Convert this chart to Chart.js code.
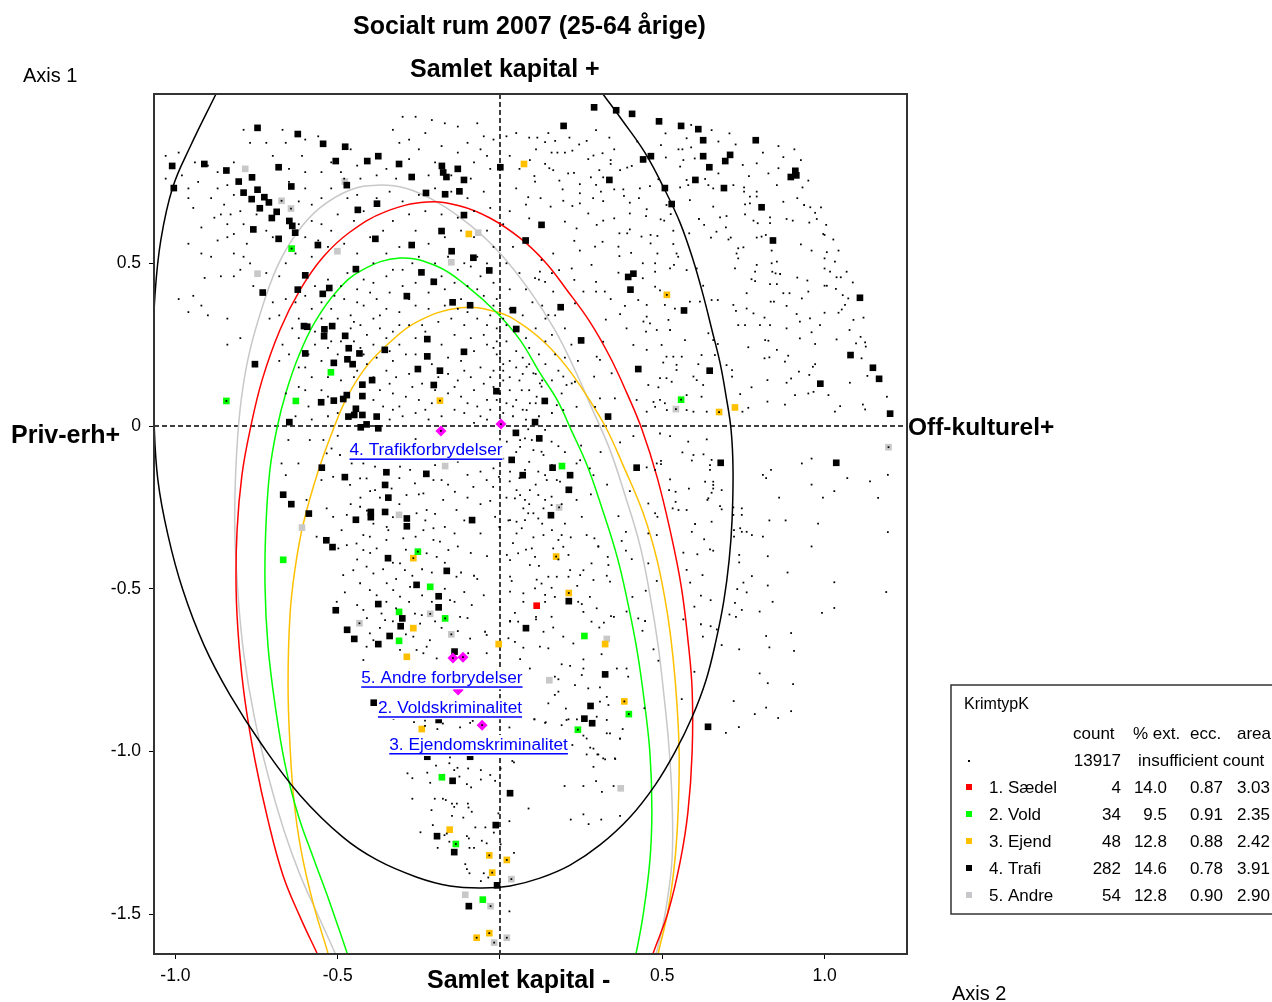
<!DOCTYPE html>
<html>
<head>
<meta charset="utf-8">
<title>Socialt rum 2007</title>
<script src="https://cdn.jsdelivr.net/npm/chart.js@4"></script>
<style>
  html, body { margin: 0; padding: 0; background: #fff; overflow: hidden; }
  canvas { display: block; }
</style>
</head>
<body>
<canvas id="chart" width="1272" height="1002"></canvas>
<script>
const xTicks = [-1.0, -0.5, 0, 0.5, 1.0];
const xTickLabels = ["-1.0", "-0.5", "", "0.5", "1.0"];
const yTicks = [0.5, 0, -0.5, -1.0, -1.5];
const yTickLabels = ["0.5", "0", "-0.5", "-1.0", "-1.5"];

// group means
const meanPoints = [[-0.182,-0.015],[0.003,0.006],[-0.145,-0.713],[-0.114,-0.71],[-0.129,-0.811],[-0.055,-0.919]];

const saedelPoints = [[0.113,-0.552]];

const voldPoints = [[-0.642,0.545],[-0.843,0.077],[-0.629,0.077],[-0.521,0.165],[0.558,0.081],[-0.668,-0.411],[-0.253,-0.386],[-0.215,-0.494],[-0.311,-0.571],[-0.169,-0.591],[-0.311,-0.66],[0.191,-0.123],[0.26,-0.645],[0.397,-0.885],[0.24,-0.933],[-0.179,-1.079],[-0.136,-1.284],[-0.053,-1.455]];

const ejendPoints = [[0.074,0.805],[-0.096,0.59],[-0.185,0.078],[0.514,0.403],[0.675,0.043],[0.724,0.057],[-0.267,-0.406],[-0.267,-0.621],[-0.287,-0.709],[-0.004,-0.67],[0.173,-0.401],[0.212,-0.513],[0.324,-0.67],[0.383,-0.846],[-0.155,-1.24],[-0.033,-1.319],[0.021,-1.333],[-0.024,-1.372],[-0.033,-1.558],[-0.072,-1.572],[-0.241,-0.931]];

const andrePoints = [[-0.785,0.79],[-0.673,0.692],[-0.644,0.668],[-0.478,0.751],[-0.501,0.537],[-0.747,0.468],[-0.15,0.503],[-0.067,0.594],[0.542,0.052],[-0.169,-0.123],[-0.61,-0.312],[-0.311,-0.273],[-0.215,-0.577],[-0.433,-0.606],[-0.15,-0.64],[0.182,-0.25],[1.197,-0.065],[0.329,-0.654],[0.152,-0.781],[0.372,-1.113],[-0.107,-1.44],[-0.029,-1.475],[0.035,-1.392],[0.021,-1.572],[-0.018,-1.587]];

const trafiPoints = [[-0.747,0.916],[-0.623,0.897],[-0.545,0.867],[-0.477,0.858],[-1.01,0.799],[-0.911,0.805],[-0.843,0.785],[-0.506,0.814],[-0.409,0.814],[-0.375,0.829],[-0.311,0.805],[-0.179,0.799],[-0.13,0.79],[0.001,0.795],[-0.682,0.795],[-0.805,0.751],[-0.764,0.764],[-0.272,0.765],[-0.175,0.779],[-0.165,0.765],[-0.111,0.756],[-1.005,0.731],[-0.643,0.736],[-0.472,0.74],[-0.747,0.726],[-0.79,0.717],[-0.726,0.703],[-0.765,0.697],[-0.712,0.687],[-0.228,0.716],[-0.169,0.712],[-0.125,0.721],[-0.379,0.683],[-0.438,0.664],[-0.74,0.669],[-0.688,0.658],[-0.703,0.639],[-0.649,0.63],[-0.64,0.615],[-0.631,0.594],[-0.76,0.604],[-0.682,0.575],[-0.384,0.575],[-0.18,0.599],[-0.111,0.648],[-0.561,0.556],[-0.272,0.556],[-0.149,0.537],[-0.082,0.517],[0.079,0.57],[-0.444,0.482],[-0.6,0.463],[-0.242,0.472],[-0.204,0.443],[-0.033,0.478],[-0.623,0.419],[-0.526,0.424],[-0.546,0.406],[-0.731,0.41],[-0.287,0.399],[-0.146,0.38],[-0.092,0.371],[0.04,0.356],[0.05,0.298],[-0.604,0.307],[-0.594,0.305],[-0.517,0.307],[-0.541,0.297],[-0.542,0.276],[-0.477,0.277],[-0.224,0.267],[-0.466,0.239],[-0.355,0.234],[-0.6,0.223],[-0.433,0.223],[-0.111,0.228],[-0.224,0.214],[-0.47,0.205],[-0.512,0.194],[-0.454,0.19],[-0.755,0.19],[-0.253,0.175],[-0.185,0.17],[-0.394,0.141],[-0.424,0.127],[-0.204,0.126],[-0.011,0.107],[-0.472,0.095],[-0.424,0.092],[-0.483,0.083],[-0.551,0.073],[-0.512,0.078],[-0.444,0.053],[-0.424,0.034],[-0.467,0.029],[-0.449,0.034],[-0.38,0.029],[-0.649,0.012],[-0.411,0.005],[-0.429,-0.004],[-0.375,-0.007],
[0.29,0.979],[0.358,0.97],[0.407,0.959],[0.196,0.922],[0.49,0.936],[0.558,0.922],[0.611,0.912],[0.626,0.878],[0.788,0.878],[0.709,0.833],[0.465,0.829],[0.441,0.819],[0.626,0.829],[0.694,0.814],[0.645,0.795],[0.91,0.784],[0.896,0.765],[0.913,0.77],[0.337,0.756],[0.602,0.756],[0.508,0.731],[0.69,0.731],[0.529,0.682],[0.806,0.672],[0.841,0.57],[0.128,0.618],[0.411,0.468],[0.395,0.458],[0.402,0.419],[0.187,0.365],[0.567,0.355],[1.109,0.394],[0.25,0.263],[1.08,0.218],[1.149,0.179],[1.168,0.145],[0.426,0.175],[0.646,0.17],[0.987,0.13],[0.138,0.077],[0.333,0.029],[0.108,0.012],[1.202,0.038],
[0.049,-0.021],[0.036,-0.104],[0.07,-0.151],[-0.549,-0.128],[-0.478,-0.157],[-0.35,-0.142],[-0.227,-0.147],[-0.354,-0.181],[-0.668,-0.211],[-0.344,-0.22],[-0.643,-0.24],[-0.354,-0.264],[-0.589,-0.269],[-0.398,-0.264],[-0.398,-0.28],[-0.444,-0.288],[-0.287,-0.284],[-0.287,-0.308],[-0.086,-0.289],[-0.535,-0.351],[-0.516,-0.372],[-0.345,-0.406],[-0.164,-0.445],[-0.257,-0.488],[-0.189,-0.523],[-0.375,-0.547],[-0.189,-0.557],[-0.506,-0.566],[-0.301,-0.591],[-0.306,-0.615],[-0.471,-0.626],[-0.34,-0.645],[-0.449,-0.654],[-0.375,-0.67],[-0.14,-0.693],[0.08,-0.621],
[0.121,-0.038],[0.162,-0.128],[0.216,-0.151],[0.212,-0.196],[0.157,-0.274],[0.421,-0.128],[0.68,-0.113],[1.036,-0.113],[0.212,-0.538],[0.324,-0.763],[0.279,-0.86],[0.26,-0.899],[0.284,-0.913],[0.641,-0.924],
[-0.389,-0.85],[-0.189,-0.903],[-0.224,-1.016],[-0.092,-1.016],[-0.146,-1.09],[0.031,-1.128],[-0.013,-1.226],[-0.194,-1.26],[-0.141,-1.309],[-0.009,-1.411],[-0.096,-1.475]];

// individuals without a crime group, read off by eye
const dotPoints = [[0.589,0.925],[0.652,0.909],[0.707,0.899],[0.51,0.899],[0.575,0.884],[0.673,0.874],[0.726,0.865],[0.55,0.85],[0.562,0.85],[0.589,0.856],[0.81,0.84],[0.858,0.86],[0.907,0.85],[0.873,0.826],[0.927,0.817],[0.565,0.817],[0.6,0.822],[0.748,0.802],[0.791,0.807],[0.827,0.776],[0.858,0.792],[0.555,0.797],[0.767,0.768],[0.673,0.776],[0.632,0.759],[0.575,0.756],[0.555,0.733],[0.58,0.74],[0.642,0.74],[0.657,0.73],[0.719,0.74],[0.752,0.733],[0.853,0.74],[0.932,0.733],[0.95,0.754],[0.791,0.72],[0.752,0.72],[0.77,0.705],[0.791,0.705],[0.916,0.7],[0.873,0.689],[0.755,0.681],[0.77,0.684],[0.585,0.694],[0.657,0.674],[0.937,0.679],[0.956,0.672],[0.989,0.672],[0.971,0.655],[0.698,0.645],[0.755,0.65],[0.832,0.641],[0.613,0.636],[0.678,0.641],[0.883,0.636],[0.902,0.631],[0.976,0.636],[0.953,0.625],[0.781,0.631],[0.794,0.623],[0.832,0.623],[0.629,0.618],[0.696,0.61],[1.005,0.618],[0.996,0.59],[0.583,0.592],[0.65,0.579],[0.667,0.597],[0.704,0.573],[0.711,0.579],[0.791,0.579],[0.806,0.582],[0.819,0.587],[1,0.587],[1.027,0.573],[0.927,0.558],[0.75,0.549],[0.734,0.546],[0.837,0.539],[0.96,0.539],[1.043,0.539],[1.007,0.534],[0.729,0.53],[0.734,0.515],[1,0.515],[1.032,0.505],[0.853,0.505],[0.837,0.5],[0.791,0.495],[1,0.484],[0.724,0.484],[0.839,0.474],[0.849,0.469],[0.863,0.467],[1.068,0.474],[1.017,0.474],[0.786,0.474],[1.037,0.457],[1.05,0.457],[0.775,0.451],[0.786,0.445],[0.916,0.456],[0.947,0.447],[1.087,0.441],[0.832,0.436],[0.853,0.436],[1,0.431],[1.007,0.431],[1.035,0.421],[0.76,0.408],[0.873,0.408],[0.892,0.408],[0.95,0.413],[1.056,0.402],[1.073,0.392],[0.93,0.392],[0.671,0.387],[0.652,0.387],[0.834,0.382],[0.844,0.382],[1.063,0.372],[0.883,0.369],[0.719,0.372],[0.727,0.354],[0.76,0.361],[1.053,0.358],[1,0.348],[1.043,0.348],[0.781,0.346],[0.914,0.344],[0.955,0.331],[0.815,0.333],[1.12,0.333],[1.089,0.326],[0.924,0.321],[0.755,0.31],[0.734,0.31],[0.801,0.31],[0.832,0.31],[0.986,0.31],[0.883,0.3],[1.077,0.295],[0.96,0.288],[1.111,0.274],[0.924,0.269],[0.817,0.264],[0.827,0.262],[1.037,0.266],[0.971,0.252],[1.097,0.254],[1.127,0.244],[1.125,0.257],[0.765,0.242],[0.853,0.234],[0.888,0.216],[0.83,0.211],[0.815,0.208],[0.878,0.198],[0.971,0.19],[1.114,0.208],[0.964,0.182],[0.921,0.167],[0.953,0.157],[0.897,0.146],[1.132,0.154],[0.883,0.133],[1.078,0.133],[0.775,0.119],[0.824,0.141],[0.909,0.095],[0.95,0.1],[0.966,0.105],[1.012,0.095],[0.824,0.075],[0.878,0.066],[1.192,0.09],[1.048,0.061],[1.032,0.044],[1.118,0.066],[1.125,0.051],[0.74,0.098],[0.765,0.056],[0.747,0.044],[0.715,0.172],[0.698,0.187],[0.715,0.152],
[0.149,0.9],[0.09,0.886],[0.115,0.886],[0.17,0.876],[0.139,0.872],[0.214,0.886],[0.296,0.909],[0.267,0.876],[0.244,0.865],[0.337,0.886],[0.352,0.85],[0.423,0.874],[0.496,0.863],[0.511,0.825],[0.223,0.846],[0.2,0.84],[0.177,0.84],[0.159,0.84],[0.111,0.85],[0.092,0.817],[0.139,0.805],[0.152,0.792],[0.164,0.786],[0.272,0.82],[0.288,0.831],[0.316,0.838],[0.341,0.817],[0.341,0.805],[0.392,0.794],[0.37,0.786],[0.406,0.799],[0.106,0.768],[0.108,0.751],[0.183,0.754],[0.21,0.776],[0.228,0.778],[0.28,0.764],[0.306,0.786],[0.318,0.764],[0.246,0.743],[0.193,0.727],[0.296,0.741],[0.311,0.72],[0.352,0.727],[0.38,0.727],[0.431,0.73],[0.462,0.737],[0.488,0.758],[0.087,0.703],[0.125,0.7],[0.195,0.692],[0.246,0.715],[0.287,0.7],[0.318,0.691],[0.382,0.707],[0.4,0.686],[0.428,0.7],[0.156,0.674],[0.223,0.676],[0.246,0.684],[0.272,0.653],[0.4,0.653],[0.452,0.666],[0.513,0.679],[0.352,0.638],[0.318,0.631],[0.298,0.618],[0.236,0.607],[0.2,0.628],[0.09,0.638],[0.4,0.604],[0.45,0.645],[0.495,0.635],[0.506,0.631],[0.526,0.651],[0.534,0.6],[0.368,0.592],[0.392,0.592],[0.464,0.587],[0.485,0.584],[0.436,0.582],[0.316,0.566],[0.229,0.569],[0.164,0.53],[0.246,0.539],[0.293,0.551],[0.365,0.551],[0.464,0.561],[0.534,0.559],[0.485,0.53],[0.544,0.53],[0.549,0.52],[0.404,0.532],[0.368,0.522],[0.128,0.51],[0.282,0.495],[0.221,0.484],[0.44,0.5],[0.478,0.5],[0.536,0.495],[0.524,0.484],[0.182,0.479],[0.123,0.474],[0.108,0.454],[0.139,0.443],[0.229,0.449],[0.296,0.443],[0.365,0.471],[0.44,0.454],[0.478,0.474],[0.575,0.479],[0.606,0.484],[0.626,0.431],[0.257,0.413],[0.296,0.413],[0.323,0.413],[0.164,0.413],[0.341,0.39],[0.478,0.428],[0.493,0.417],[0.585,0.382],[0.616,0.382],[0.452,0.372],[0.426,0.387],[0.385,0.369],[0.231,0.377],[0.149,0.341],[0.508,0.372],[0.452,0.336],[0.442,0.321],[0.37,0.344],[0.326,0.327],[0.539,0.361],[0.519,0.326],[0.39,0.3],[0.483,0.295],[0.462,0.315],[0.45,0.29],[0.524,0.295],[0.57,0.264],[0.498,0.249],[0.411,0.249],[0.452,0.234],[0.657,0.264],[0.642,0.285],[0.671,0.252],[0.662,0.218],[0.318,0.259],[0.298,0.213],[0.308,0.203],[0.513,0.213],[0.534,0.213],[0.56,0.213],[0.503,0.195],[0.544,0.188],[0.611,0.19],[0.621,0.218],[0.344,0.162],[0.29,0.152],[0.513,0.147],[0.544,0.172],[0.596,0.152],[0.529,0.136],[0.457,0.126],[0.493,0.147],[0.488,0.119],[0.626,0.126],[0.606,0.141],[0.205,0.126],[0.195,0.152],[0.231,0.136],[0.123,0.131],[0.308,0.085],[0.354,0.085],[0.421,0.08],[0.473,0.074],[0.493,0.08],[0.508,0.07],[0.575,0.095],[0.621,0.09],[0.452,0.044],[0.478,0.059],[0.575,0.049],[0.637,0.044],[0.596,0.044],[0.293,0.059],[0.514,0.049],[0.082,0.182],[0.103,0.162],[0.067,0.11],[0.092,0.07],[0.128,0.121],[0.113,0.09],[0.082,0.049],[0.175,0.064],[0.221,0.131],[0.195,0.049],[0.236,0.059],
[-0.99,0.84],[-1.03,0.83],[-1.03,0.76],[-0.96,0.7],[-0.945,0.67],[-0.92,0.61],[-0.96,0.56],[-0.92,0.53],[-0.89,0.52],[-0.91,0.455],[-0.99,0.39],[-0.945,0.4],[-0.96,0.35],[-0.92,0.37],[-0.9,0.34],[-0.84,0.33],[-0.8,0.27],[-0.84,0.25],[-0.79,0.91],[-0.77,0.87],[-0.72,0.87],[-0.67,0.91],[-0.66,0.87],[-0.6,0.88],[-0.56,0.89],[-0.61,0.83],[-0.52,0.81],[-0.46,0.85],[-0.49,0.78],[-0.44,0.8],[-0.38,0.83],[-0.3,0.95],[-0.26,0.95],[-0.21,0.94],[-0.17,0.93],[-0.33,0.91],[-0.28,0.88],[-0.31,0.87],[-0.23,0.9],[-0.13,0.92],[-0.07,0.93],[-0.05,0.89],[-0.02,0.88],[0.02,0.89],[0.05,0.9],[-0.1,0.87],[-0.06,0.85],[-0.13,0.84],[-0.18,0.86],[-0.25,0.85],[-0.28,0.82],[-0.35,0.79],[-0.2,0.81],[-0.08,0.81],[-0.04,0.83],[-0.03,0.79],[0.03,0.83],[0.06,0.79],[-0.09,0.76],[-0.15,0.77],[-0.22,0.77],[-0.32,0.76],[-0.38,0.77],[-0.43,0.76],[-0.48,0.76],[-0.55,0.78],[-0.6,0.78],[-0.65,0.79],[-0.7,0.83],[-0.82,0.81],[-0.87,0.78],[-0.9,0.8],[-0.94,0.81],[-0.98,0.77],[-0.93,0.75],[-0.87,0.73],[-0.96,0.73],[-0.89,0.7],[-0.85,0.68],[-0.82,0.71],[-0.84,0.62],[-0.84,0.74],[-0.8,0.66],[-0.86,0.65],[-0.83,0.65],[-0.88,0.64],[-0.79,0.62],[-0.82,0.59],[-0.84,0.58],[-0.78,0.56],[-0.82,0.53],[-0.79,0.52],[-0.87,0.57],[-0.75,0.65],[-0.72,0.6],[-0.7,0.58],[-0.62,0.69],[-0.6,0.73],[-0.65,0.75],[-0.58,0.68],[-0.55,0.7],[-0.52,0.73],[-0.47,0.7],[-0.44,0.71],[-0.62,0.62],[-0.58,0.63],[-0.55,0.62],[-0.6,0.58],[-0.56,0.57],[-0.52,0.6],[-0.5,0.65],[-0.45,0.63],[-0.42,0.66],[-0.38,0.7],[-0.34,0.72],[-0.3,0.69],[-0.25,0.71],[-0.2,0.73],[-0.15,0.72],[-0.1,0.7],[-0.05,0.72],[0,0.74],[0.05,0.73],[-0.86,0.46],[-0.82,0.46],[-0.8,0.48],[-0.77,0.5],[-0.76,0.43],[-0.72,0.47],[-0.68,0.46],[-0.66,0.5],[-0.63,0.53],[-0.58,0.52],[-0.53,0.55],[-0.48,0.56],[-0.44,0.53],[-0.4,0.58],[-0.36,0.6],[-0.33,0.63],[-0.28,0.65],[-0.23,0.66],[-0.18,0.65],[-0.13,0.64],[-0.08,0.66],[-0.03,0.67],[0.03,0.66],[0.08,0.68],
[-0.7,0.38],[-0.68,0.34],[-0.66,0.39],[-0.63,0.38],[-0.6,0.4],[-0.58,0.36],[-0.62,0.33],[-0.64,0.3],[-0.71,0.33],[-0.55,0.38],[-0.52,0.36],[-0.57,0.43],[-0.53,0.45],[-0.49,0.43],[-0.47,0.47],[-0.42,0.45],[-0.39,0.5],[-0.35,0.53],[-0.31,0.55],[-0.26,0.6],[-0.22,0.56],[-0.17,0.58],[-0.12,0.6],[-0.08,0.58],[-0.04,0.6],[0.01,0.62],[0.04,0.55],[-0.02,0.55],[-0.07,0.52],[-0.11,0.5],[-0.16,0.52],[-0.2,0.5],[-0.25,0.52],[-0.3,0.48],[-0.35,0.46],[-0.39,0.44],[-0.44,0.42],[-0.48,0.39],[-0.5,0.33],[-0.46,0.34],[-0.42,0.37],[-0.38,0.39],[-0.34,0.41],[-0.3,0.43],[-0.26,0.44],[-0.22,0.41],[-0.18,0.46],[-0.14,0.44],[-0.1,0.43],[-0.06,0.46],[-0.02,0.44],[0.02,0.5],[0.06,0.47],[0.08,0.42],[0.03,0.42],[-0.01,0.39],[-0.05,0.4],[-0.12,0.39],[-0.17,0.37],[-0.22,0.36],[-0.26,0.37],[-0.31,0.35],[-0.35,0.36],[-0.39,0.33],[-0.43,0.31],[-0.46,0.3],[-0.57,0.29],[-0.62,0.27],[-0.67,0.25],[-0.68,0.2],[-0.65,0.22],[-0.6,0.18],[-0.57,0.25],[-0.53,0.24],[-0.49,0.26],[-0.45,0.26],[-0.41,0.28],[-0.37,0.3],[-0.33,0.29],[-0.28,0.31],[-0.24,0.31],[-0.19,0.32],[-0.15,0.33],[-0.11,0.31],[-0.07,0.33],[-0.03,0.34],[0.01,0.33],[-0.01,0.3],[-0.05,0.28],[-0.09,0.27],[-0.14,0.28],[-0.18,0.25],[-0.26,0.27],[-0.31,0.25],[-0.35,0.27],[-0.39,0.25],[-0.43,0.24],[-0.5,0.22],[-0.55,0.2],[-0.58,0.15],[-0.62,0.12],[-0.66,0.1],[-0.63,0.03],[-0.59,0.06],[-0.55,0.11],[-0.53,0.15],[-0.49,0.14],[-0.45,0.15],[-0.41,0.19],[-0.38,0.21],[-0.33,0.2],[-0.29,0.22],[-0.26,0.22],[-0.21,0.19],[-0.16,0.21],[-0.12,0.2],[-0.08,0.23],[-0.04,0.25],[-0.01,0.22],[0.02,0.26],[0.05,0.23],[0.08,0.27],[0.11,0.3],[0.14,0.26],[0.17,0.22],[0.12,0.22],[0.09,0.19],[0.05,0.18],[0.01,0.19],[-0.02,0.17],[-0.06,0.18],[-0.09,0.15],[-0.13,0.14],[-0.16,0.16],[-0.24,0.13],[-0.28,0.16],[-0.32,0.15],[-0.35,0.17],[-0.37,0.11],[-0.33,0.1],[-0.29,0.09],[-0.25,0.08],[-0.21,0.07],[-0.16,0.1],[-0.12,0.09],[-0.08,0.11],[-0.05,0.13],[-0.02,0.12],[0.01,0.14],[0.03,0.11],[0.06,0.14],[0.05,0.08],[0.02,0.07],[-0.01,0.08],[-0.03,0.05],[-0.07,0.06],[-0.11,0.04],[-0.14,0.05],[-0.18,0.03],[-0.22,0.02],[-0.26,0.04],[-0.3,0.03],[-0.33,0.05],[-0.36,0.06],[-0.39,0.08],[-0.58,0.02],[-0.53,0.03],[-0.5,0.04],[-0.47,0],[-0.34,0.02],[-0.08,0.01],[-0.04,0.02],[0.01,0.04],[0.04,0.03],[0.07,0.05],[0.09,0.11],[0.11,0.16],[0.14,0.19],[0.16,0.14],[0.19,0.1],[0.14,0.08],[0.16,0.04],[0.12,0.03],[0.08,0.02],[0,0.1],[0.01,0.17],[0,0.21],[-0.01,0.26],[0,0.29],[0.1,0.38],[0.13,0.37],[0.17,0.34],[0.14,0.33],[0.2,0.3],[0.22,0.25],[0.24,0.2],[0.12,0.45],[0.16,0.47],
[0.58,-0.048],[0.637,-0.041],[0.493,-0.023],[0.524,-0.031],[0.411,-0.031],[0.562,-0.081],[0.596,-0.089],[0.627,-0.087],[0.591,-0.106],[0.652,-0.104],[0.647,-0.12],[0.647,-0.135],[0.452,-0.127],[0.483,-0.115],[0.496,-0.107],[0.496,-0.117],[0.478,-0.135],[0.524,-0.164],[0.632,-0.171],[0.657,-0.171],[0.657,-0.181],[0.657,-0.192],[0.582,-0.192],[0.521,-0.197],[0.541,-0.202],[0.652,-0.205],[0.683,-0.197],[0.642,-0.222],[0.639,-0.227],[0.457,-0.238],[0.541,-0.233],[0.678,-0.246],[0.683,-0.256],[0.719,-0.25],[0.745,-0.253],[0.532,-0.253],[0.55,-0.258],[0.575,-0.258],[0.478,-0.268],[0.485,-0.279],[0.719,-0.273],[0.745,-0.273],[0.365,-0.277],[0.652,-0.294],[0.601,-0.301],[0.591,-0.325],[0.74,-0.314],[0.745,-0.325],[0.76,-0.325],[0.721,-0.32],[0.776,-0.335],[0.721,-0.34],[0.388,-0.325],[0.457,-0.33],[0.483,-0.335],[0.267,-0.335],[0.291,-0.345],[0.375,-0.353],[0.629,-0.348],[0.647,-0.379],[0.657,-0.383],[0.388,-0.383],[0.303,-0.369],[0.565,-0.389],[0.608,-0.394],[0.737,-0.396],[0.737,-0.419],[0.332,-0.402],[0.406,-0.409],[0.334,-0.427],[0.282,-0.422],[0.457,-0.422],[0.575,-0.442],[0.624,-0.458],[0.776,-0.461],[0.483,-0.476],[0.586,-0.481],[0.75,-0.481],[0.329,-0.46],[0.288,-0.473],[0.339,-0.478],[0.731,-0.501],[0.76,-0.511],[0.449,-0.506],[0.408,-0.525],[0.619,-0.521],[0.649,-0.535],[0.298,-0.56],[0.39,-0.57],[0.599,-0.555],[0.724,-0.543],[0.745,-0.565],[0.707,-0.579],[0.727,-0.586],[0.565,-0.594],[0.619,-0.609],[0.649,-0.615],[0.447,-0.599],[0.426,-0.591],[0.282,-0.601],[0.342,-0.584],[0.351,-0.586],[0.32,-0.604],[0.306,-0.619],[0.439,-0.629],[0.625,-0.647],[0.668,-0.625],[0.473,-0.686],[0.683,-0.673],[0.737,-0.686],[0.488,-0.721],[0.56,-0.839],[0.599,-0.755],[0.445,-0.867],[0.37,-0.96],
[1.195,-0.15],[1.165,-0.221],[1.195,-0.326],[1.19,-0.51],[1.03,-0.559],[0.992,-0.574],[0.897,-0.636],[0.906,-0.691],[0.903,-0.793],[0.897,-0.876],[0.857,-0.897],[0.736,-0.925],[0.696,-0.943],[0.835,-0.135],[0.93,-0.115],[0.96,-0.1],[0.82,-0.16],[0.81,-0.15],[1.07,-0.16],[1.14,-0.17],[0.83,-0.29],[0.96,-0.18],[0.86,-0.22],[0.88,-0.29],[0.995,-0.22],[1.03,-0.2],[0.98,-0.3],[0.81,-0.34],[0.825,-0.4],[0.886,-0.45],[0.96,-0.37],[1.03,-0.48],[0.825,-0.49],[0.84,-0.54],[0.8,-0.57],[0.82,-0.645],[0.83,-0.68],[0.8,-0.76],[0.825,-0.79],[0.72,-0.845],[0.785,-0.885],[0.82,-0.865],
[0.021,-0.048],[0.062,-0.043],[0.087,-0.01],[0.077,-0.038],[0.098,-0.043],[0.062,-0.064],[0.139,-0.012],[0.159,-0.048],[0.18,-0.062],[0.103,-0.074],[0.128,-0.079],[0.134,-0.089],[0.077,-0.135],[0.031,-0.14],[0.118,-0.14],[0.139,-0.151],[0.175,-0.166],[0.185,-0.171],[0.247,-0.105],[0.236,-0.115],[0.277,-0.13],[0.288,-0.151],[0.051,-0.197],[0.092,-0.197],[0.144,-0.166],[0.062,-0.212],[0.077,-0.227],[0.046,-0.222],[0.118,-0.212],[0.159,-0.217],[0.139,-0.227],[0.159,-0.243],[0.236,-0.227],[0.072,-0.253],[0.087,-0.268],[0.103,-0.268],[0.134,-0.253],[0.252,-0.279],[0.031,-0.289],[0.051,-0.294],[0.077,-0.289],[0.118,-0.284],[0,-0.31],[0.067,-0.314],[0.134,-0.335],[0.19,-0.335],[0.18,-0.35],[0.218,-0.342],[0.051,-0.33],[0.103,-0.342],[0.021,-0.396],[0.056,-0.391],[0.031,-0.412],[0.108,-0.402],[0.098,-0.376],[0.164,-0.376],[0.195,-0.371],[0.211,-0.396],[0.303,-0.371],[0.216,-0.443],[0.211,-0.463],[0.257,-0.443],[0.247,-0.458],[0.092,-0.427],[0.149,-0.463],[0.175,-0.463],[0.031,-0.463],[0.036,-0.476],[0.113,-0.472],[0.238,-0.491],[0.159,-0.497],[0.128,-0.484],[0.072,-0.514],[0.108,-0.499],[0.139,-0.519],[0.169,-0.525],[0.031,-0.509],[0.277,-0.525],[0.252,-0.547],[0.241,-0.54],[0.139,-0.54],[0.072,-0.54],[0,-0.54],[0.046,-0.574],[0.111,-0.586],[0.111,-0.594],[0.159,-0.586],[0.056,-0.601],[0.031,-0.599],[0.257,-0.571],[0.134,-0.632],[0.164,-0.619],[0.026,-0.652],[0.046,-0.663],[0.195,-0.647],[0.226,-0.668],[0.072,-0.681],[0.123,-0.678],[0.149,-0.683],[0.257,-0.717],[0.313,-0.701],[0.062,-0.716],[0.19,-0.732],[0.216,-0.737],[0.092,-0.745],[0.169,-0.77],[0.18,-0.778],[0.257,-0.745],[0.252,-0.765],[0.36,-0.745],[0.39,-0.745],[0.395,-0.77],[0.231,-0.796],[0.272,-0.806],[0.308,-0.803],[0.18,-0.816],[0.169,-0.826],[0.149,-0.852],[0.329,-0.832],[0.308,-0.847],[0.203,-0.868],[0.334,-0.857],[0.298,-0.893],[0.329,-0.903],[0.205,-0.903],[0.106,-0.901],[0.139,-0.912],[0.19,-0.919],[0.329,-0.944],[0.339,-0.944],[0.267,-0.96],[0.288,-0.991],[0.303,-1.009],[0.267,-1.009],[0.354,-1.021],[0.318,-1.021],
[-0.652,-0.043],[-0.673,-0.115],[-0.66,-0.151],[-0.621,-0.115],[-0.586,-0.043],[-0.596,-0.227],[-0.565,-0.34],[-0.534,-0.253],[-0.498,-0.376],[-0.472,-0.366],[-0.503,-0.54],[-0.478,-0.511],[-0.483,-0.458],[-0.55,-0.166],[-0.514,-0.156],[-0.544,-0.043],[-0.519,-0.069],[-0.493,-0.089],[-0.534,-0.084],[-0.457,-0.115],[-0.421,-0.115],[-0.462,-0.181],[-0.431,-0.161],[-0.385,-0.197],[-0.385,-0.125],[-0.411,-0.161],[-0.334,-0.192],[-0.308,-0.125],[-0.277,-0.135],[-0.262,-0.176],[-0.288,-0.212],[-0.236,-0.207],[-0.205,-0.166],[-0.18,-0.166],[-0.139,-0.202],[-0.082,-0.187],[-0.041,-0.166],[-0.021,-0.187],[-0.003,-0.156],[-0.015,-0.279],[-0.002,-0.31],[0.026,-0.29],[-0.134,-0.258],[-0.175,-0.227],[-0.226,-0.258],[-0.257,-0.268],[-0.472,-0.273],[-0.431,-0.248],[-0.514,-0.279],[-0.488,-0.32],[-0.421,-0.335],[-0.442,-0.361],[-0.401,-0.34],[-0.421,-0.381],[-0.38,-0.376],[-0.344,-0.32],[-0.349,-0.31],[-0.298,-0.345],[-0.236,-0.32],[-0.205,-0.314],[-0.205,-0.35],[-0.185,-0.355],[-0.226,-0.391],[-0.195,-0.402],[-0.159,-0.381],[-0.308,-0.422],[-0.293,-0.443],[-0.411,-0.432],[-0.452,-0.443],[-0.39,-0.453],[-0.349,-0.483],[-0.329,-0.504],[-0.308,-0.524],[-0.277,-0.494],[-0.431,-0.483],[-0.401,-0.504],[-0.421,-0.565],[-0.365,-0.576],[-0.354,-0.596],[-0.401,-0.637],[-0.39,-0.658],[-0.411,-0.678],[-0.262,-0.576],[-0.241,-0.581],[-0.246,-0.607],[-0.267,-0.647],[-0.216,-0.658],[-0.226,-0.678],[-0.257,-0.688],[-0.236,-0.698],[-0.195,-0.714],[-0.134,-0.463],[-0.154,-0.535],[-0.123,-0.586],[-0.087,-0.55],[-0.046,-0.632],[-0.041,-0.642],[-0.092,-0.653],[-0.098,-0.698],[-0.041,-0.698],[0.031,-0.601],[-0.421,-0.719],[-0.308,-0.688],
[-0.328,-0.9],[-0.265,-0.91],[-0.231,-0.905],[-0.231,-0.921],[-0.193,-0.931],[-0.176,-0.914],[-0.123,-0.926],[-0.092,-0.912],[-0.084,-0.906],[0.029,-0.926],[0.106,-0.901],[0.141,-0.91],[0.211,-0.901],[0.237,-0.901],[0.257,-0.951],[0.37,-0.96],[0.378,-0.931],[0.223,-0.98],[0.278,-0.988],[0.3,-1.009],[0.324,-1.024],[0.355,-1.023],[0.288,-1.047],[-0.154,-1.018],[-0.156,-1.036],[-0.197,-1.043],[-0.131,-1.05],[-0.141,-1.057],[-0.098,-1.052],[-0.059,-1.057],[0.002,-1.052],[0.038,-1.029],[0.043,-1.033],[-0.285,-1.067],[-0.27,-1.082],[-0.224,-1.065],[-0.215,-1.096],[-0.125,-1.077],[-0.102,-1.1],[-0.089,-1.11],[-0.059,-1.086],[-0.03,-1.072],[-0.015,-1.09],[0.199,-1.106],[0.257,-1.106],[0.314,-1.124],[0.296,-1.091],[0.35,-1.106],[-0.27,-1.145],[-0.201,-1.145],[-0.176,-1.145],[-0.167,-1.149],[-0.148,-1.16],[-0.141,-1.17],[-0.133,-1.16],[-0.099,-1.16],[-0.097,-1.172],[0.088,-1.175],[-0.211,-1.18],[-0.087,-1.185],[-0.148,-1.198],[-0.113,-1.203],[-0.005,-1.19],[0.029,-1.214],[0.218,-1.209],[0.257,-1.193],[0.273,-1.223],[0.312,-1.209],[0.37,-1.198],[-0.207,-1.226],[-0.076,-1.233],[-0.045,-1.233],[-0.019,-1.249],[-0.245,-1.248],[-0.171,-1.257],[-0.164,-1.252],[-0.102,-1.26],[-0.096,-1.267],[-0.056,-1.274],[-0.041,-1.282],[-0.156,-1.277],[-0.192,-1.296],[-0.094,-1.296],[-0.08,-1.296],[0.002,-1.285],[0.043,-1.311],[-0.107,-1.346],[-0.102,-1.361],[-0.094,-1.374],[-0.05,-1.374],[-0.036,-1.387],[-0.059,-1.398],[0.029,-1.491],
[-0.033,-1.319],[0.021,-1.333],[-0.024,-1.372],[0.035,-1.392],[-0.029,-1.475],[0.021,-1.572],[-0.018,-1.587],[-0.033,-1.558],[-0.072,-1.572],[-0.136,-1.284],[0.24,-0.933],[0.397,-0.885],[0.383,-0.846],[-0.843,0.077],[0.558,0.081],[0.675,0.043],[-0.185,0.078],[0.514,0.403],[-0.642,0.545],[-0.673,0.692],[-0.644,0.668],[0.542,0.052],[1.197,-0.065],[-0.433,-0.606],[-0.215,-0.577],[-0.169,-0.591],[-0.253,-0.386],[-0.267,-0.406],[-0.15,-0.64],[0.182,-0.25],[0.173,-0.401],[0.212,-0.513],[-0.182,-0.015],[0.003,0.006],[-0.145,-0.713],[-0.114,-0.71],[-0.055,-0.919],
[-0.53,0.09],[-0.44,0.17],[-0.37,0.34],[-0.28,0.39],[-0.23,0.29],[-0.17,0.42],[-0.13,0.48],[-0.09,0.49],[-0.04,0.5],[-0.02,0.37],[0.03,0.36],[0.07,0.34],[0.09,0.24],[0.07,0.16],[0.04,0.06],[0.11,0.07],[0.13,0.14],[0.18,0.17],[0.2,0.21],[0.16,0.28],[-0.03,0.15],[-0.04,0.08],[-0.06,0.03],[-0.1,0.07],[-0.14,0.12],[-0.2,0.11],[-0.23,0.05],[-0.27,0.12],[-0.31,0.06],[-0.34,0.13],[-0.39,0.15],[-0.42,0.22],[-0.45,0.32],[-0.4,0.41],[-0.33,0.48],[-0.27,0.5],[-0.21,0.45],[-0.13,0.36],[-0.1,0.35],[-0.07,0.42],[-0.04,0.31],[0,0.36],[0.02,0.31],[-0.02,0.24],[0.03,0.2],[0.07,0.21],[0.03,0.15],[-0.11,0.17],[-0.19,0.15],[-0.25,0.18],[-0.31,0.31],[-0.34,0.23],[-0.44,0.38],[-0.51,0.4],[-0.55,0.33],[-0.59,0.31],[-0.54,0.29],[-0.47,0.2],[-0.52,0.26],[-0.59,0.22],[-0.62,0.18],[-0.6,0.11],
[-0.5,-0.03],[-0.46,-0.06],[-0.41,-0.08],[-0.37,-0.05],[-0.33,-0.09],[-0.29,-0.07],[-0.26,-0.04],[-0.22,-0.09],[-0.15,-0.09],[-0.12,-0.05],[-0.09,-0.09],[-0.05,-0.1],[-0.02,-0.06],[0.01,-0.1],[0.03,-0.17],[0.05,-0.08],[0.09,-0.11],[0.11,-0.18],[0.06,-0.16],[0.02,-0.22],[0.09,-0.24],[-0.02,-0.13],[-0.06,-0.14],[-0.1,-0.15],[-0.13,-0.11],[-0.16,-0.18],[-0.2,-0.12],[-0.25,-0.21],[-0.27,-0.1],[-0.31,-0.16],[-0.31,-0.24],[-0.37,-0.22],[-0.4,-0.2],[-0.43,-0.22],[-0.46,-0.24],[-0.39,-0.3],[-0.41,-0.26],[-0.35,-0.35],[-0.33,-0.28],[-0.29,-0.38],[-0.26,-0.34],[-0.23,-0.29],[-0.2,-0.27],[-0.17,-0.31],[-0.14,-0.33],[-0.11,-0.29],[-0.1,-0.22],[-0.06,-0.24],[-0.03,-0.23],[-0.06,-0.33],[-0.04,-0.4],[-0.09,-0.39],[-0.12,-0.45],[-0.17,-0.42],[-0.21,-0.45],[-0.24,-0.44],[-0.27,-0.46],[-0.32,-0.47],[-0.36,-0.44],[-0.38,-0.52],[-0.35,-0.54],[-0.32,-0.56],[-0.28,-0.54],[-0.24,-0.52],[-0.21,-0.54],[-0.17,-0.5],[-0.14,-0.54],[-0.11,-0.51],[-0.08,-0.46],[-0.05,-0.52],[-0.1,-0.59],[-0.13,-0.63],[-0.18,-0.62],[-0.2,-0.6],[-0.29,-0.64],[-0.33,-0.6],[-0.37,-0.62],[-0.41,-0.59],[-0.44,-0.55],[-0.44,-0.41],[-0.4,-0.39],[-0.33,-0.42],[-0.13,-0.37],[-0.07,-0.47],[0.04,-0.36],[0.08,-0.38],[0.13,-0.3],[0.16,-0.32],[0.12,-0.43],[0.18,-0.41],[0.2,-0.3],[0.16,-0.12],[0.2,-0.08],[0.25,-0.06],[0.22,-0.19],[0.19,-0.24],[0.28,-0.21],[0.31,-0.08],[0.33,-0.18],[0.37,-0.05],[0.4,-0.2]];

// outlines of the 14 percent ellipses
const trafiEllipse = [[-0.875,1.02],[-0.955,0.857],[-1.008,0.734],[-1.045,0.571],[-1.063,0.402],[-1.069,0.233],[-1.066,0.018],[-1.054,-0.166],[-1.023,-0.335],[-0.977,-0.504],[-0.912,-0.673],[-0.832,-0.826],[-0.733,-0.98],[-0.616,-1.134],[-0.484,-1.263],[-0.379,-1.333],[-0.256,-1.386],[-0.154,-1.413],[-0.055,-1.419],[0.031,-1.413],[0.123,-1.389],[0.216,-1.349],[0.308,-1.287],[0.401,-1.201],[0.478,-1.103],[0.539,-1.002],[0.592,-0.894],[0.635,-0.78],[0.666,-0.657],[0.69,-0.535],[0.706,-0.412],[0.715,-0.289],[0.718,-0.135],[0.712,-0.012],[0.696,0.095],[0.678,0.194],[0.653,0.295],[0.626,0.402],[0.595,0.51],[0.555,0.624],[0.508,0.725],[0.447,0.839],[0.376,0.94],[0.317,1.02]];
const andreEllipse = [[-0.508,-1.619],[-0.561,-1.502],[-0.616,-1.379],[-0.666,-1.241],[-0.715,-1.072],[-0.758,-0.888],[-0.789,-0.703],[-0.807,-0.519],[-0.817,-0.319],[-0.814,-0.135],[-0.801,0.049],[-0.777,0.203],[-0.74,0.341],[-0.687,0.488],[-0.626,0.593],[-0.555,0.67],[-0.462,0.725],[-0.379,0.74],[-0.293,0.731],[-0.194,0.688],[-0.092,0.617],[0,0.531],[0.092,0.415],[0.169,0.295],[0.231,0.172],[0.283,0.055],[0.339,-0.074],[0.385,-0.212],[0.431,-0.366],[0.462,-0.519],[0.487,-0.673],[0.505,-0.826],[0.52,-0.979],[0.53,-1.149],[0.53,-1.333],[0.508,-1.502],[0.481,-1.622],[0.47,-1.66]];
const saedelEllipse = [[-0.564,-1.619],[-0.616,-1.508],[-0.669,-1.379],[-0.715,-1.21],[-0.755,-1.026],[-0.786,-0.841],[-0.804,-0.673],[-0.813,-0.504],[-0.81,-0.319],[-0.795,-0.15],[-0.77,-0.012],[-0.733,0.141],[-0.678,0.295],[-0.616,0.418],[-0.545,0.519],[-0.462,0.596],[-0.354,0.658],[-0.225,0.688],[-0.123,0.676],[-0.031,0.639],[0.062,0.577],[0.139,0.504],[0.206,0.418],[0.277,0.32],[0.339,0.212],[0.391,0.101],[0.438,-0.012],[0.484,-0.157],[0.524,-0.32],[0.558,-0.49],[0.579,-0.657],[0.592,-0.81],[0.592,-1.002],[0.579,-1.186],[0.555,-1.339],[0.518,-1.493],[0.471,-1.622],[0.46,-1.66]];
const voldEllipse = [[-0.471,-1.619],[-0.524,-1.465],[-0.576,-1.324],[-0.622,-1.195],[-0.662,-1.041],[-0.693,-0.857],[-0.715,-0.673],[-0.724,-0.489],[-0.721,-0.304],[-0.709,-0.135],[-0.687,-0.006],[-0.659,0.104],[-0.619,0.218],[-0.57,0.32],[-0.502,0.415],[-0.425,0.479],[-0.308,0.516],[-0.194,0.491],[-0.102,0.43],[-0.009,0.347],[0.062,0.264],[0.123,0.163],[0.176,0.08],[0.222,-0.018],[0.268,-0.12],[0.314,-0.252],[0.361,-0.402],[0.394,-0.544],[0.422,-0.688],[0.444,-0.841],[0.462,-1.005],[0.468,-1.18],[0.462,-1.333],[0.441,-1.502],[0.419,-1.622],[0.41,-1.66]];
const ejendEllipse = [[-0.53,-1.619],[-0.576,-1.465],[-0.613,-1.303],[-0.635,-1.149],[-0.647,-0.98],[-0.653,-0.796],[-0.647,-0.581],[-0.632,-0.442],[-0.607,-0.304],[-0.561,-0.141],[-0.512,-0.006],[-0.471,0.089],[-0.413,0.181],[-0.345,0.252],[-0.256,0.32],[-0.123,0.363],[-0.009,0.35],[0.062,0.316],[0.139,0.255],[0.206,0.181],[0.268,0.092],[0.327,-0.006],[0.379,-0.12],[0.441,-0.267],[0.484,-0.412],[0.515,-0.571],[0.533,-0.71],[0.545,-0.851],[0.552,-1.005],[0.549,-1.18],[0.539,-1.333],[0.518,-1.487],[0.487,-1.622],[0.48,-1.66]];

const zeroLineH = [[-1.066,0],[1.254,0]];
const zeroLineV = [[0,1.02],[0,-1.622]];

// labels of the group means, white box behind the text
const meanLabels = ["4. Trafikforbrydelser", "5. Andre forbrydelser", "2. Voldskriminalitet", "3. Ejendomskriminalitet"];
const meanLabelX = [-0.228, -0.179, -0.154, -0.066];
const meanLabelY = [-0.075, -0.775, -0.867, -0.98];

const legendNames = ["1. Sædel", "2. Vold", "3. Ejend", "4. Trafi", "5. Andre"];
const legendColors = ["#ff0000", "#00ff00", "#ffc000", "#000000", "#c8c8cc"];
const legendCount = ["4", "34", "48", "282", "54"];
const legendExt = ["14.0", "9.5", "12.8", "14.6", "12.8"];
const legendEcc = ["0.87", "0.91", "0.88", "0.78", "0.90"];
const legendArea = ["3.03", "2.35", "2.42", "3.91", "2.90"];

const BOLD = 'bold 25px "Liberation Sans"';
const PLAIN = '17px "Liberation Sans"';

function toXY(list) {
  return list.map((p) => ({ x: p[0], y: p[1] }));
}

function squares(list, color, radius, style) {
  return {
    type: "scatter",
    data: toXY(list),
    pointStyle: style || "rect",
    pointRadius: radius,
    pointHoverRadius: radius,
    pointBackgroundColor: color,
    pointBorderWidth: 0,
    showLine: false,
  };
}

function outline(list, color, width, dash) {
  return {
    type: "scatter",
    data: toXY(list),
    showLine: true,
    fill: false,
    tension: dash ? 0 : 0.4,
    borderColor: color,
    borderWidth: width,
    borderDash: dash || [],
    pointRadius: 0,
  };
}

function put(ctx, text, x, y, font, align) {
  ctx.font = font;
  ctx.textAlign = align || "left";
  ctx.textBaseline = "middle";
  ctx.fillStyle = "#000";
  ctx.fillText(text, x, y);
}

const textPlugin = {
  id: "textPlugin",
  afterDatasetsDraw(chart) {
    const { ctx, chartArea, scales } = chart;
    ctx.save();

    // frame
    ctx.strokeStyle = "#333";
    ctx.lineWidth = 2;
    ctx.strokeRect(chartArea.left, chartArea.top, chartArea.right - chartArea.left, chartArea.bottom - chartArea.top);

    // mean labels
    ctx.font = '17.3px "Liberation Sans"';
    ctx.textBaseline = "middle";
    ctx.textAlign = "left";
    meanLabels.forEach((label, i) => {
      const w = ctx.measureText(label).width;
      const x = scales.x.getPixelForValue(meanLabelX[i]) - w / 2;
      const y = scales.y.getPixelForValue(meanLabelY[i]);
      ctx.fillStyle = "#fff";
      ctx.fillRect(x - 1, y - 10, w + 2, 21);
      ctx.fillStyle = "#0000ff";
      ctx.fillText(label, x, y);
      ctx.fillRect(x, y + 8, w, 1.5);
    });

    // headings round the plot
    ctx.fillStyle = "#fff";
    ctx.fillRect(908, 410, 150, 34);
    ctx.fillRect(425, 966, 190, 30);
    put(ctx, "Socialt rum 2007 (25-64 årige)", 353, 27, BOLD);
    put(ctx, "Samlet kapital +", 410, 70, BOLD);
    put(ctx, "Samlet kapital -", 427, 981, BOLD);
    put(ctx, "Priv-erh+", 11, 436, BOLD);
    put(ctx, "Off-kulturel+", 908, 428, 'bold 24.5px "Liberation Sans"');
    put(ctx, "Axis 1", 23, 76, '20px "Liberation Sans"');
    put(ctx, "Axis 2", 952, 994, '20px "Liberation Sans"');

    // legend box
    ctx.strokeStyle = "#333";
    ctx.lineWidth = 1.5;
    ctx.strokeRect(951, 685, 330, 229);
    put(ctx, "KrimtypK", 964, 705, '16px "Liberation Sans"');
    put(ctx, "count", 1073, 734, PLAIN);
    put(ctx, "% ext.", 1133, 734, PLAIN);
    put(ctx, "ecc.", 1190, 734, PLAIN);
    put(ctx, "area", 1237, 734, PLAIN);
    ctx.fillStyle = "#000";
    ctx.fillRect(968, 760, 2, 2);
    put(ctx, "13917", 1121, 761, PLAIN, "right");
    put(ctx, "insufficient count", 1138, 761, PLAIN);
    legendNames.forEach((name, i) => {
      const y = 788 + i * 27;
      ctx.fillStyle = legendColors[i];
      ctx.fillRect(966, y - 4, 6, 6);
      put(ctx, name, 989, y, PLAIN);
      put(ctx, legendCount[i], 1121, y, PLAIN, "right");
      put(ctx, legendExt[i], 1167, y, PLAIN, "right");
      put(ctx, legendEcc[i], 1223, y, PLAIN, "right");
      put(ctx, legendArea[i], 1270, y, PLAIN, "right");
    });
    ctx.restore();
  },
};

// first dataset ends up on top
new Chart(document.getElementById("chart"), {
  type: "scatter",
  data: {
    datasets: [
      squares(dotPoints, "#000000", 1.25),
      squares(meanPoints, "#ff00ff", 5.5, "rectRot"),
      squares(trafiPoints, "#000000", 4.7),
      squares(saedelPoints, "#ff0000", 4.7),
      squares(voldPoints, "#00ff00", 4.7),
      squares(ejendPoints, "#ffc000", 4.7),
      squares(andrePoints, "#c8c8c8", 4.7),
      outline(trafiEllipse, "#000000", 1.5),
      outline(saedelEllipse, "#ff0000", 1.5),
      outline(voldEllipse, "#00ff00", 1.5),
      outline(ejendEllipse, "#ffc000", 1.5),
      outline(andreEllipse, "#c8c8c8", 1.5),
      outline(zeroLineH, "#000000", 1.5, [5, 3]),
      outline(zeroLineV, "#000000", 1.5, [5, 3]),
    ],
  },
  options: {
    responsive: false,
    animation: false,
    events: [],
    layout: { padding: { left: 100, right: 365, top: 94, bottom: 8 } },
    plugins: { legend: { display: false }, tooltip: { enabled: false } },
    scales: {
      x: {
        type: "linear",
        min: -1.066,
        max: 1.254,
        afterBuildTicks: (scale) => { scale.ticks = xTicks.map((v) => ({ value: v })); },
        afterFit: (scale) => { scale.height = 40; },
        grid: { drawOnChartArea: false, tickLength: 5, color: "#000" },
        border: { color: "#333", width: 2 },
        ticks: {
          autoSkip: false,
          maxRotation: 0,
          padding: 7,
          color: "#000",
          font: { family: "Liberation Sans", size: 17.5 },
          callback: (v, i) => xTickLabels[i],
        },
      },
      y: {
        type: "linear",
        min: -1.622,
        max: 1.02,
        afterBuildTicks: (scale) => { scale.ticks = yTicks.map((v) => ({ value: v })); },
        afterFit: (scale) => { scale.width = 54; },
        grid: { drawOnChartArea: false, tickLength: 5, color: "#000" },
        border: { color: "#333", width: 2 },
        ticks: {
          autoSkip: false,
          padding: 8,
          color: "#000",
          font: { family: "Liberation Sans", size: 17.5 },
          callback: (v, i) => yTickLabels[i],
        },
      },
    },
  },
  plugins: [textPlugin],
});
</script>
</body>
</html>
